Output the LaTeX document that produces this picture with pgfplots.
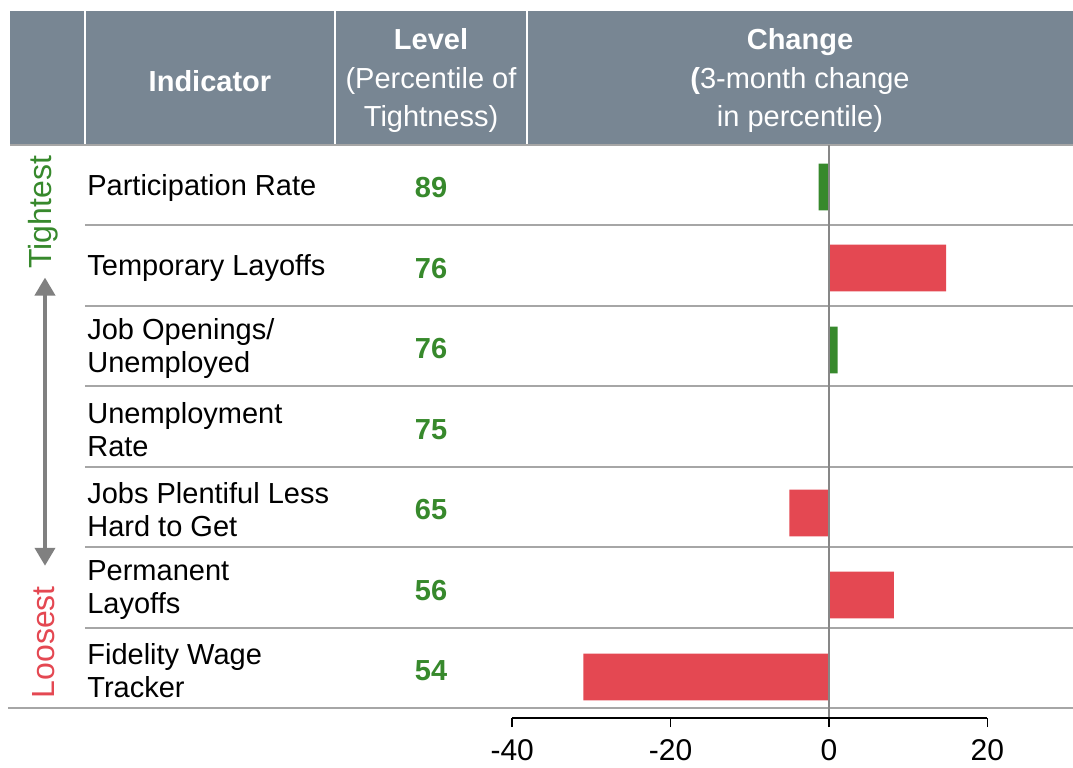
\documentclass[border=0pt]{standalone}
\usepackage{pgfplots}
\pgfplotsset{compat=1.18}
\usepackage{fontspec}
\setmainfont{Liberation Sans}
\usetikzlibrary{arrows.meta}
\definecolor{hdr}{RGB}{120,134,147}
\definecolor{grn}{RGB}{55,137,44}
\definecolor{rd}{RGB}{228,72,82}
\definecolor{sep}{RGB}{166,166,166}
\definecolor{zl}{RGB}{135,135,135}
\definecolor{arr}{RGB}{128,128,128}
\begin{document}
\begin{tikzpicture}
\begin{axis}[
  scale only axis, width=536.5pt, height=359pt,
  xmin=-104.67, xmax=30.81, ymin=0.379, ymax=9.298,
  axis line style={draw=none},
  ytick=\empty,
  xtick={-40,-20,0,20}, xticklabels={-40,-20,0,20},
  xtick pos=left, tick align=outside,
  major tick length=4.5pt,
  tick style={black, line width=0.8pt},
  xticklabel style={font=\fontsize{15}{17}\selectfont, yshift=-2.5pt},
  clip=false,
  xbar, bar shift=0pt, bar width=0.58,
]
% header
\fill[hdr] (axis cs:-103.4,7.497) rectangle (axis cs:30.81,9.161);
\draw[white, line width=1.3pt] (axis cs:-93.94,7.497) -- (axis cs:-93.94,9.161);
\draw[white, line width=1.3pt] (axis cs:-62.37,7.497) -- (axis cs:-62.37,9.161);
\draw[white, line width=1.3pt] (axis cs:-38.13,7.497) -- (axis cs:-38.13,9.161);
\draw[sep, line width=1.2pt] (axis cs:-103.4,7.497) -- (axis cs:30.81,7.497);
% row separators
\draw[sep, line width=1.2pt] (axis cs:-93.94,6.5) -- (axis cs:30.81,6.5);
\draw[sep, line width=1.2pt] (axis cs:-93.94,5.5) -- (axis cs:30.81,5.5);
\draw[sep, line width=1.2pt] (axis cs:-93.94,4.5) -- (axis cs:30.81,4.5);
\draw[sep, line width=1.2pt] (axis cs:-93.94,3.5) -- (axis cs:30.81,3.5);
\draw[sep, line width=1.2pt] (axis cs:-93.94,2.5) -- (axis cs:30.81,2.5);
\draw[sep, line width=1.2pt] (axis cs:-93.94,1.5) -- (axis cs:30.81,1.5);
\draw[sep, line width=1.2pt] (axis cs:-103.66,0.5) -- (axis cs:30.81,0.5);
% bars
\addplot[fill=grn, draw=none] coordinates {(-1.3,6.975) (1.1,4.950)};
\addplot[fill=rd, draw=none] coordinates {(14.8,5.969) (-5,2.925) (8.2,1.907) (-31,0.888)};
% zero line and bottom axis line
\draw[zl, line width=1pt] (axis cs:0,7.497) -- (axis cs:0,0.379);
\draw[black, line width=0.8pt] (axis cs:-40,0.379) -- (axis cs:20,0.379);
% header text
\node[text=white, yshift=-1.5pt, font=\fontsize{14.5}{19.25}\selectfont\bfseries] at (axis cs:-78.16,8.329) {Indicator};
\node[text=white, yshift=-1.5pt, align=center, font=\fontsize{14.5}{19.25}\selectfont] at (axis cs:-50.25,8.329) {\textbf{Level}\\(Percentile of\\Tightness)};
\node[text=white, yshift=-1.5pt, align=center, font=\fontsize{14.5}{19.25}\selectfont] at (axis cs:-3.66,8.329) {\textbf{Change}\\\textbf{(}3-month change\\in percentile)};
% row labels
\node[anchor=west, yshift=-1.5pt, align=left, font=\fontsize{14.5}{16.5}\selectfont, inner sep=0pt] at (axis cs:-93.69,7) {Participation Rate};
\node[anchor=west, yshift=-1.5pt, align=left, font=\fontsize{14.5}{16.5}\selectfont, inner sep=0pt] at (axis cs:-93.69,6) {Temporary Layoffs};
\node[anchor=west, yshift=-1.5pt, align=left, font=\fontsize{14.5}{16.5}\selectfont, inner sep=0pt] at (axis cs:-93.69,5) {Job Openings/\\Unemployed};
\node[anchor=west, yshift=-1.5pt, align=left, font=\fontsize{14.5}{16.5}\selectfont, inner sep=0pt] at (axis cs:-93.69,4) {Unemployment\\Rate};
\node[anchor=west, yshift=-1.5pt, align=left, font=\fontsize{14.5}{16.5}\selectfont, inner sep=0pt] at (axis cs:-93.69,3) {Jobs Plentiful Less\\Hard to Get};
\node[anchor=west, yshift=-1.5pt, align=left, font=\fontsize{14.5}{16.5}\selectfont, inner sep=0pt] at (axis cs:-93.69,2) {Permanent\\Layoffs};
\node[anchor=west, yshift=-1.5pt, align=left, font=\fontsize{14.5}{16.5}\selectfont, inner sep=0pt] at (axis cs:-93.69,1) {Fidelity Wage\\Tracker};
% level numbers
\node[text=grn, yshift=-1.5pt, font=\fontsize{14.5}{16.5}\selectfont\bfseries] at (axis cs:-50.25,7) {89};
\node[text=grn, yshift=-1.5pt, font=\fontsize{14.5}{16.5}\selectfont\bfseries] at (axis cs:-50.25,6) {76};
\node[text=grn, yshift=-1.5pt, font=\fontsize{14.5}{16.5}\selectfont\bfseries] at (axis cs:-50.25,5) {76};
\node[text=grn, yshift=-1.5pt, font=\fontsize{14.5}{16.5}\selectfont\bfseries] at (axis cs:-50.25,4) {75};
\node[text=grn, yshift=-1.5pt, font=\fontsize{14.5}{16.5}\selectfont\bfseries] at (axis cs:-50.25,3) {65};
\node[text=grn, yshift=-1.5pt, font=\fontsize{14.5}{16.5}\selectfont\bfseries] at (axis cs:-50.25,2) {56};
\node[text=grn, yshift=-1.5pt, font=\fontsize{14.5}{16.5}\selectfont\bfseries] at (axis cs:-50.25,1) {54};
% tightest / loosest
\node[rotate=90, text=grn, font=\fontsize{16}{18}\selectfont] at (axis cs:-99.2,6.66) {Tightest};
\node[rotate=90, text=rd, font=\fontsize{16}{18}\selectfont] at (axis cs:-99.2,1.32) {Loosest};
\draw[arr, line width=2pt, {Triangle[width=10pt,length=9pt]}-{Triangle[width=10pt,length=9pt]}] (axis cs:-98.99,5.85) -- (axis cs:-98.99,2.27);
\coordinate (bl) at (axis cs:-104.67,-0.242);
\coordinate (tr) at (axis cs:30.81,9.298);
\end{axis}
\pgfresetboundingbox
\path[use as bounding box] (bl) rectangle (tr);
\end{tikzpicture}
\end{document}
